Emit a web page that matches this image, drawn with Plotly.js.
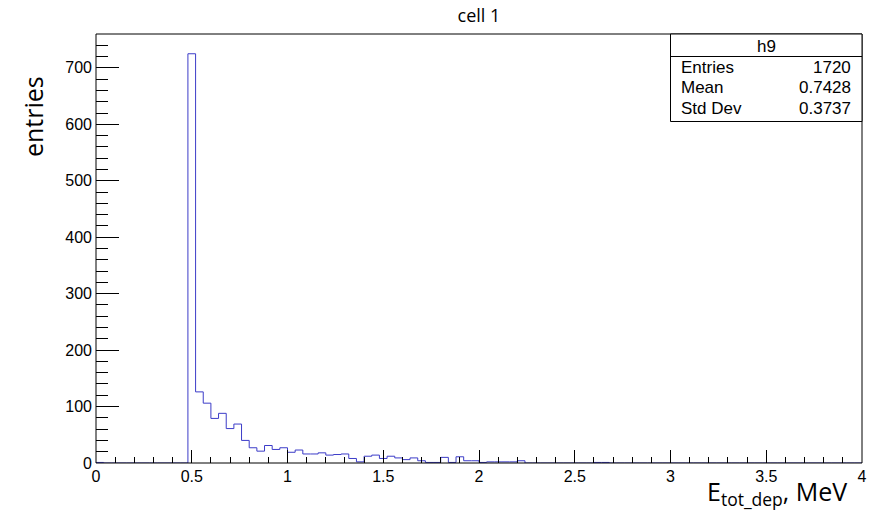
<!DOCTYPE html>
<html>
<head>
<meta charset="utf-8">
<script src="https://cdn.plot.ly/plotly-3.0.1.min.js"></script>
<style>
html,body{margin:0;padding:0;background:#fff;}
#chart{width:875px;height:511px;}
</style>
</head>
<body>
<div id="chart"></div>
<script>
// ---- data ----
const binLow = 0.0;
const binWidth = 0.04;
const counts = [
  1, 0, 0, 0, 0, 0, 0, 0, 0, 0,
  0, 0, 725, 126, 106, 79, 88, 61, 69, 40,
  27, 21, 31, 24, 27, 19, 23, 16, 16, 18,
  14, 15, 16, 8, 2, 12, 14, 8, 12, 9,
  6, 9, 4, 1, 1, 10, 1, 11, 4, 4,
  1, 2, 2, 2, 2, 4, 0, 0, 0, 0,
  0, 0, 0, 0, 0, 1, 1, 0, 0, 0,
  0, 0, 0, 0, 0, 0, 0, 0, 0, 0,
  0, 0, 0, 0, 0, 0, 0, 0, 0, 0,
  0, 0, 0, 0, 0, 0, 0, 0, 0, 0
];
const xTickVals = [0, 0.5, 1, 1.5, 2, 2.5, 3, 3.5, 4];
const xTickLabels = ["0", "0.5", "1", "1.5", "2", "2.5", "3", "3.5", "4"];
const statsName = "h9";
const statsLabels = ["Entries", "Mean", "Std Dev"];
const statsValues = ["1720", "0.7428", "0.3737"];
const chartTitle = "cell 1";
const xTitle = "E<sub>tot_dep</sub>, MeV";
const yTitle = "entries";

// ---- build step outline from bins ----
const xs = [], ys = [];
for (let i = 0; i < counts.length; i++) {
  xs.push(binLow + i * binWidth);
  ys.push(counts[i]);
}
xs.push(binLow + counts.length * binWidth);
ys.push(counts[counts.length - 1]);

// pixel geometry helpers (plot area)
const W = 875, H = 511;
const L = 96, R = 862, T = 34, B = 463;
const px = x => (x - L) / (R - L);
const py = y => (B - y) / (B - T);

const trace = {
  type: 'scatter', mode: 'lines', x: xs, y: ys,
  line: {shape: 'hv', color: 'rgb(60,60,200)', width: 1},
  hoverinfo: 'skip', showlegend: false
};

const tickFont = {family: 'Liberation Sans, Arial, sans-serif', size: 16, color: '#000'};
const statFont = {family: 'Liberation Sans, Arial, sans-serif', size: 17, color: '#000'};
const titleFont = {family: 'Open Sans, Noto Sans, sans-serif', size: 18, color: '#000'};
const axTitleFont = {family: 'Open Sans, Noto Sans, sans-serif', size: 25, color: '#000'};

const annotations = [
  {xref: 'paper', yref: 'paper', x: px(849), y: py(492), xanchor: 'right', yanchor: 'middle',
   text: xTitle, showarrow: false, font: axTitleFont},
  {xref: 'paper', yref: 'paper', x: px(33), y: py(117), xanchor: 'center', yanchor: 'middle',
   text: yTitle, textangle: -90, showarrow: false, font: axTitleFont},
  {xref: 'paper', yref: 'paper', x: px(766), y: py(46), xanchor: 'center', yanchor: 'middle',
   text: statsName, showarrow: false, font: statFont}
];
const rowY = [67.5, 88, 108.5];
for (let i = 0; i < statsLabels.length; i++) {
  annotations.push({xref: 'paper', yref: 'paper', x: px(679), y: py(rowY[i]), xanchor: 'left', yanchor: 'middle',
    text: statsLabels[i], showarrow: false, font: statFont});
  annotations.push({xref: 'paper', yref: 'paper', x: px(853), y: py(rowY[i]), xanchor: 'right', yanchor: 'middle',
    text: statsValues[i], showarrow: false, font: statFont});
}

const shapes = [
  // frame drawn over the histogram, as ROOT does
  {type: 'rect', xref: 'paper', yref: 'paper', x0: 0, x1: 1, y0: 0, y1: 1,
   line: {color: '#000', width: 1}, fillcolor: 'rgba(0,0,0,0)', layer: 'above'},
  {type: 'rect', xref: 'paper', yref: 'paper', x0: px(670.5), x1: 1, y0: py(121.5), y1: 1,
   line: {color: '#000', width: 1}, fillcolor: '#fff', layer: 'above'},
  {type: 'line', xref: 'paper', yref: 'paper', x0: px(670.5), x1: 1, y0: py(56.5), y1: py(56.5),
   line: {color: '#000', width: 1}, layer: 'above'}
];

const layout = {
  width: W, height: H,
  margin: {l: L, r: W - R, t: T, b: H - B, pad: 0},
  paper_bgcolor: '#fff', plot_bgcolor: '#fff',
  title: {text: chartTitle, font: titleFont, x: px(479), xref: 'paper', xanchor: 'center', y: 1 - 16 / H, yanchor: 'middle'},
  xaxis: {
    range: [0, 4], showgrid: false, zeroline: false, layer: 'above traces',
    showline: false,
    ticks: 'inside', ticklen: 13, tickwidth: 1, tickcolor: '#000',
    tickmode: 'array', tickvals: xTickVals, ticktext: xTickLabels,
    minor: {dtick: 0.1, tick0: 0, ticks: 'inside', ticklen: 6.5, tickcolor: '#000', tickwidth: 1, showgrid: false},
    tickfont: tickFont, ticklabelstandoff: 2
  },
  yaxis: {
    range: [0, 760], showgrid: false, zeroline: false, layer: 'above traces',
    showline: false,
    ticks: 'inside', ticklen: 23, tickwidth: 1, tickcolor: '#000',
    dtick: 100, tick0: 0,
    minor: {dtick: 20, tick0: 0, ticks: 'inside', ticklen: 11.5, tickcolor: '#000', tickwidth: 1, showgrid: false},
    tickfont: tickFont, ticklabelstandoff: 3
  },
  annotations: annotations,
  shapes: shapes
};

Plotly.newPlot('chart', [trace], layout, {displayModeBar: false, staticPlot: true});
</script>
</body>
</html>
